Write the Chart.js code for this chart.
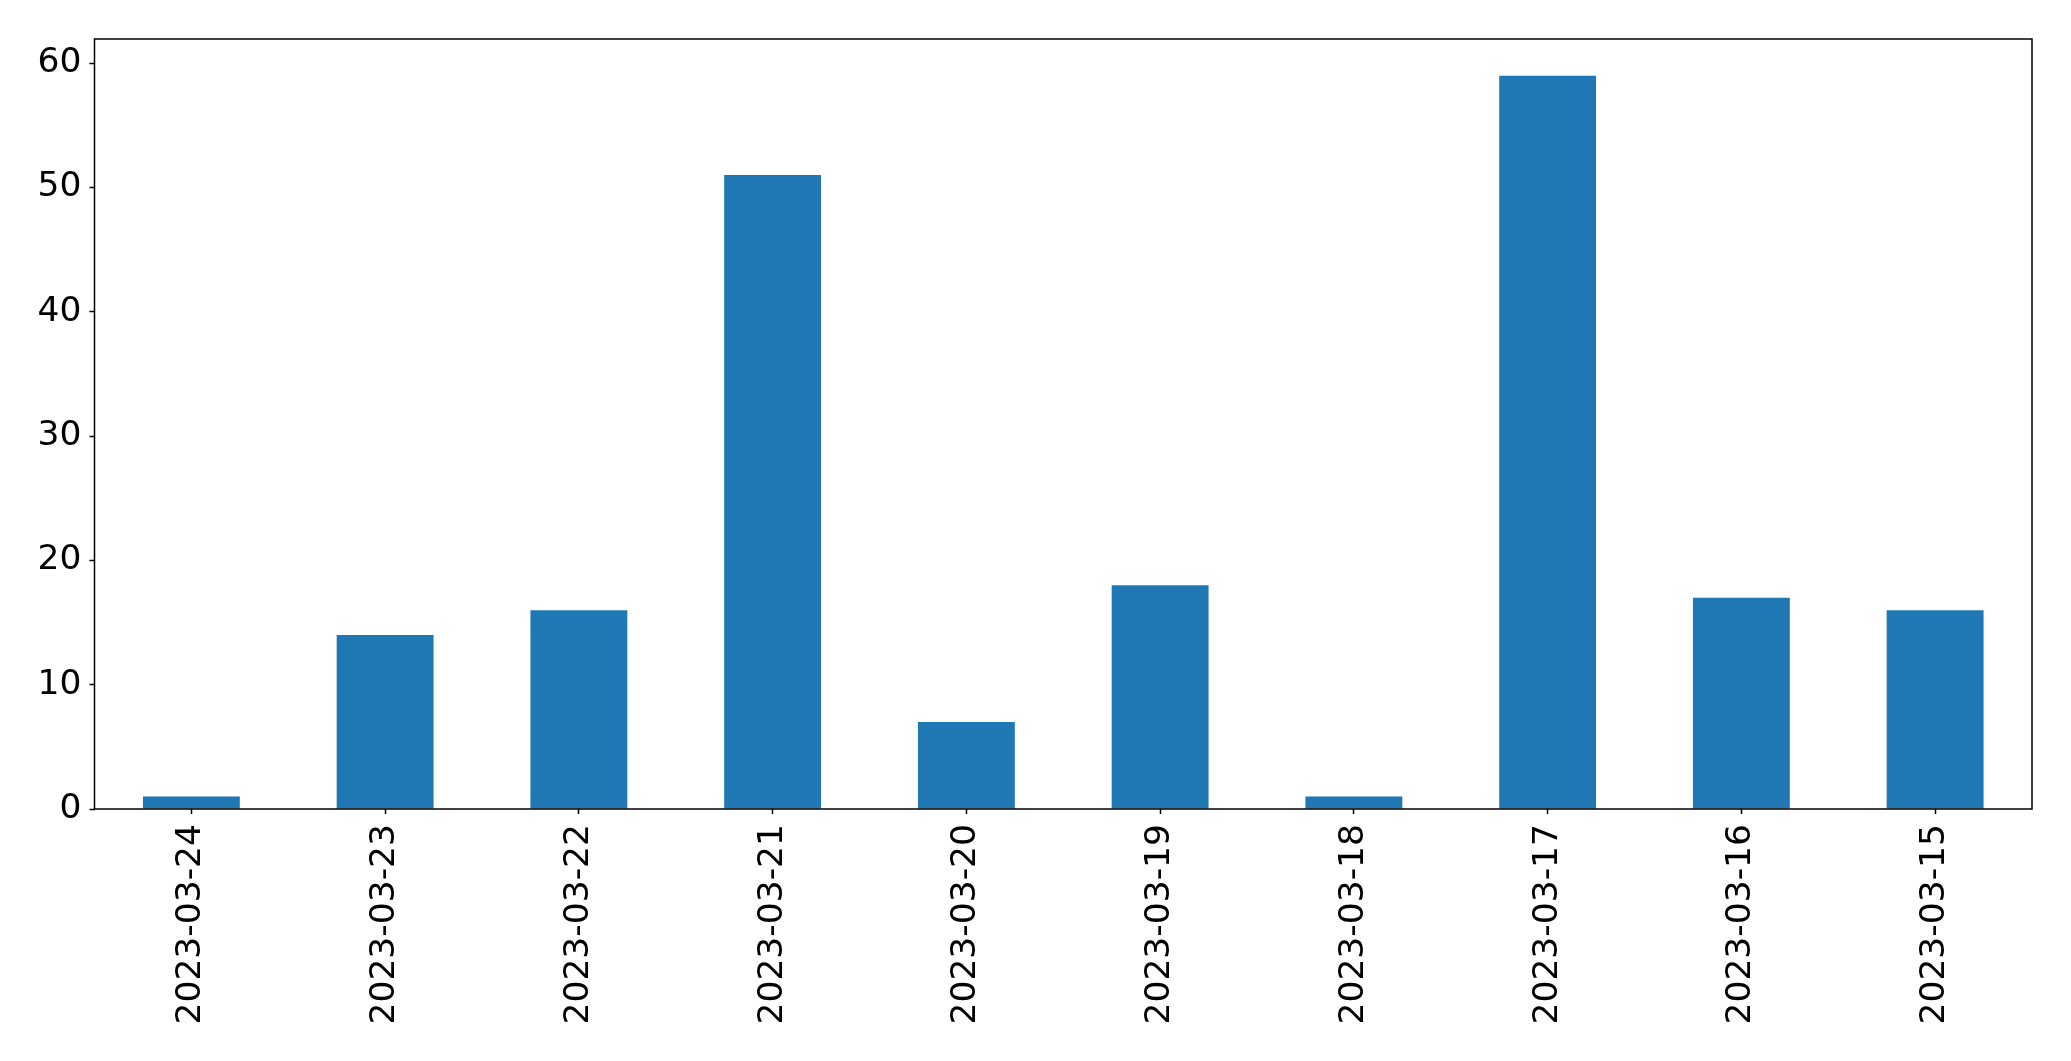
<!DOCTYPE html>
<html>
<head>
<meta charset="utf-8">
<script src="https://cdn.jsdelivr.net/npm/chart.js@4.4.0/dist/chart.umd.min.js"></script>
<style>
    html, body { margin: 0; padding: 0; background: #fff; }
    #wrap { width: 2071px; height: 1061px; }
</style>
</head>
<body>
<div id="wrap"><canvas id="barChart" width="2071" height="1061"></canvas></div>
<script>
    const dates = ['2023-03-24', '2023-03-23', '2023-03-22', '2023-03-21', '2023-03-20',
                   '2023-03-19', '2023-03-18', '2023-03-17', '2023-03-16', '2023-03-15'];
    const counts = [1, 14, 16, 51, 7, 18, 1, 59, 17, 16];
    const yTicks = [0, 10, 20, 30, 40, 50, 60];

    // black box round the plot area, like matplotlib's spines
    const frame = {
        id: 'frame',
        afterDraw(chart) {
            const a = chart.chartArea, ctx = chart.ctx;
            ctx.save();
            ctx.strokeStyle = '#000';
            ctx.lineWidth = 1.5;
            ctx.strokeRect(a.left, a.top, a.right - a.left, a.bottom - a.top);
            ctx.restore();
        }
    };

    const tickFont = { family: 'DejaVu Sans', size: 34.5 };

    new Chart(document.getElementById('barChart'), {
        type: 'bar',
        data: {
            labels: dates,
            datasets: [{ data: counts, backgroundColor: '#1f77b4', barPercentage: 0.5, categoryPercentage: 1.0 }]
        },
        options: {
            responsive: false,
            animation: false,
            plugins: { legend: { display: false }, tooltip: { enabled: false } },
            layout: { padding: { top: 39, right: 39, left: 0, bottom: 0 } },
            scales: {
                x: {
                    offset: true,
                    grid: { display: true, offset: false, drawOnChartArea: false, drawTicks: true, tickLength: 5, tickColor: '#000', tickWidth: 1.5 },
                    border: { display: false },
                    ticks: { color: '#000', font: tickFont, maxRotation: 90, minRotation: 90, padding: 10, autoSkip: false },
                    afterFit(scale) { scale.height = 252; }
                },
                y: {
                    min: 0,
                    max: 61.95,
                    afterBuildTicks(scale) { scale.ticks = yTicks.map(v => ({ value: v })); },
                    grid: { display: true, drawOnChartArea: false, drawTicks: true, tickLength: 5, tickColor: '#000', tickWidth: 1.5 },
                    border: { display: false },
                    ticks: { color: '#000', font: tickFont, padding: 8 },
                    afterFit(scale) { scale.width = 94.5; }
                }
            }
        },
        plugins: [frame]
    });
</script>
</body>
</html>
